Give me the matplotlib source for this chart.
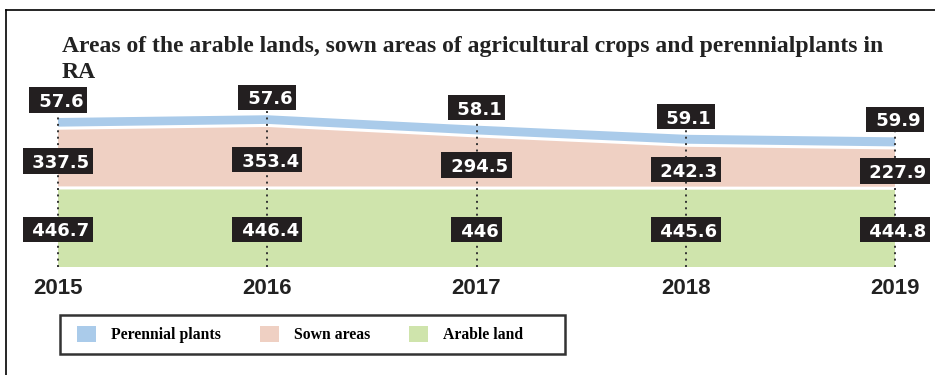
import numpy as np
import matplotlib
matplotlib.use("Agg")
import matplotlib.pyplot as plt
from matplotlib.patches import Patch, Rectangle
from matplotlib.lines import Line2D
from matplotlib.transforms import IdentityTransform

years = [2015, 2016, 2017, 2018, 2019]
arable = [446.7, 446.4, 446.0, 445.6, 444.8]
sown = [337.5, 353.4, 294.5, 242.3, 227.9]
perennial = [57.6, 57.6, 58.1, 59.1, 59.9]

series_names = ["Perennial plants", "Sown areas", "Arable land"]
c_blue = "#aacbea"
c_pink = "#efd0c3"
c_green = "#cfe4ac"
box_col = "#231f20"

W, H = 935, 375
fig = plt.figure(figsize=(W / 100, H / 100), dpi=100)
ax = fig.add_axes([0, 0, 1, 1])
ax.set_axis_off()

# pixel layout of the plot region: 2015 at x=58, 2019 at x=895, zero at y=267
px_year = (895 - 58) / 4
px_unit = 0.177
ax.set_xlim(2015 - 58 / px_year, 2015 + (W - 58) / px_year)
ax.set_ylim(-(H - 267) / px_unit, 267 / px_unit)

x = np.array(years, dtype=float)
a = np.array(arable)
s = np.array(sown)
p = np.array(perennial)
top1 = a
top2 = a + s
top3 = a + s + p

ax.stackplot(x, a, s, p, colors=[c_green, c_pink, c_blue], linewidth=0, zorder=1)
# white seams between the bands
ax.plot(x, top1, color="white", lw=2.2, zorder=2, solid_capstyle="butt")
ax.plot(x, top2, color="white", lw=2.2, zorder=2, solid_capstyle="butt")

pt = 0.72  # points per pixel at 100 dpi
lab_font = dict(family="DejaVu Sans", weight="bold", size=13, color="white")
bbox = dict(boxstyle="square,pad=0.2", fc=box_col, ec="none")
value_texts = []


def value_box(txt, xy, dy):
    # leading space gives the wider left margin inside the box
    t = ax.annotate(" " + txt, xy=xy, xytext=(0, (dy - 2) * pt),
                    textcoords="offset points", ha="center", va="center",
                    bbox=bbox, zorder=6, **lab_font)
    value_texts.append(t)


for i, yr in enumerate(years):
    # dotted drop line from the top label down to the base
    ax.plot([yr, yr], [0, top3[i] + 17 / px_unit], color="#333333", lw=1.4,
            linestyle=(0, (1, 2.3)), zorder=3)
    value_box(f"{perennial[i]:g}", (yr, top3[i]), 18)
    value_box(f"{sown[i]:g}", (yr, (top1[i] + top2[i]) / 2), -3)
    value_box(f"{arable[i]:g}", (yr, top1[i] / 2), -2)
    ax.annotate(str(yr), xy=(yr, 0), xytext=(0, -21 * pt), textcoords="offset points",
                ha="center", va="center", fontsize=16, fontweight="bold",
                family="Liberation Sans", color="#222222")

# the text bbox includes the font descent, so the digits ride high;
# swap each bbox for a plain rectangle nudged up by 2 px
fig.canvas.draw()
for t in value_texts:
    ext = t.get_bbox_patch().get_window_extent()
    t.set_bbox(None)
    ax.add_patch(Rectangle((ext.x0, ext.y0 + 2), ext.width, ext.height,
                           fc=box_col, ec="none", transform=IdentityTransform(),
                           clip_on=False, zorder=5))

title_font = dict(family="Liberation Serif", fontweight="bold", fontsize=17,
                  color="#222222", ha="left", va="baseline")
fig.text(62 / W, 1 - 52 / H,
         "Areas of the arable lands, sown areas of agricultural crops and perennialplants in",
         **title_font)
fig.text(62 / W, 1 - 78 / H, "RA", **title_font)

# outer frame: top and left edges only
fig.add_artist(Line2D([6 / W, 1], [1 - 10 / H, 1 - 10 / H], color="black", lw=1.2,
                      transform=fig.transFigure))
fig.add_artist(Line2D([6 / W, 6 / W], [0, 1 - 10 / H], color="black", lw=1.2,
                      transform=fig.transFigure))

# legend with its own frame
fig.add_artist(Rectangle((60 / W, 1 - 354 / H), 505 / W, 39 / H, fill=False,
                         ec="#333333", lw=1.8, transform=fig.transFigure))
handles = [Patch(fc=c, ec="none") for c in (c_blue, c_pink, c_green)]
fig.legend(handles, series_names, loc="center left",
           bbox_to_anchor=(77 / W, 1 - 334.5 / H), ncol=3, frameon=False,
           prop=dict(family="Liberation Serif", weight="bold", size=11.3),
           handlelength=1.2, handleheight=1.2, handletextpad=0.95,
           columnspacing=2.5, borderpad=0, borderaxespad=0)

fig.savefig("out.png", dpi=100)
